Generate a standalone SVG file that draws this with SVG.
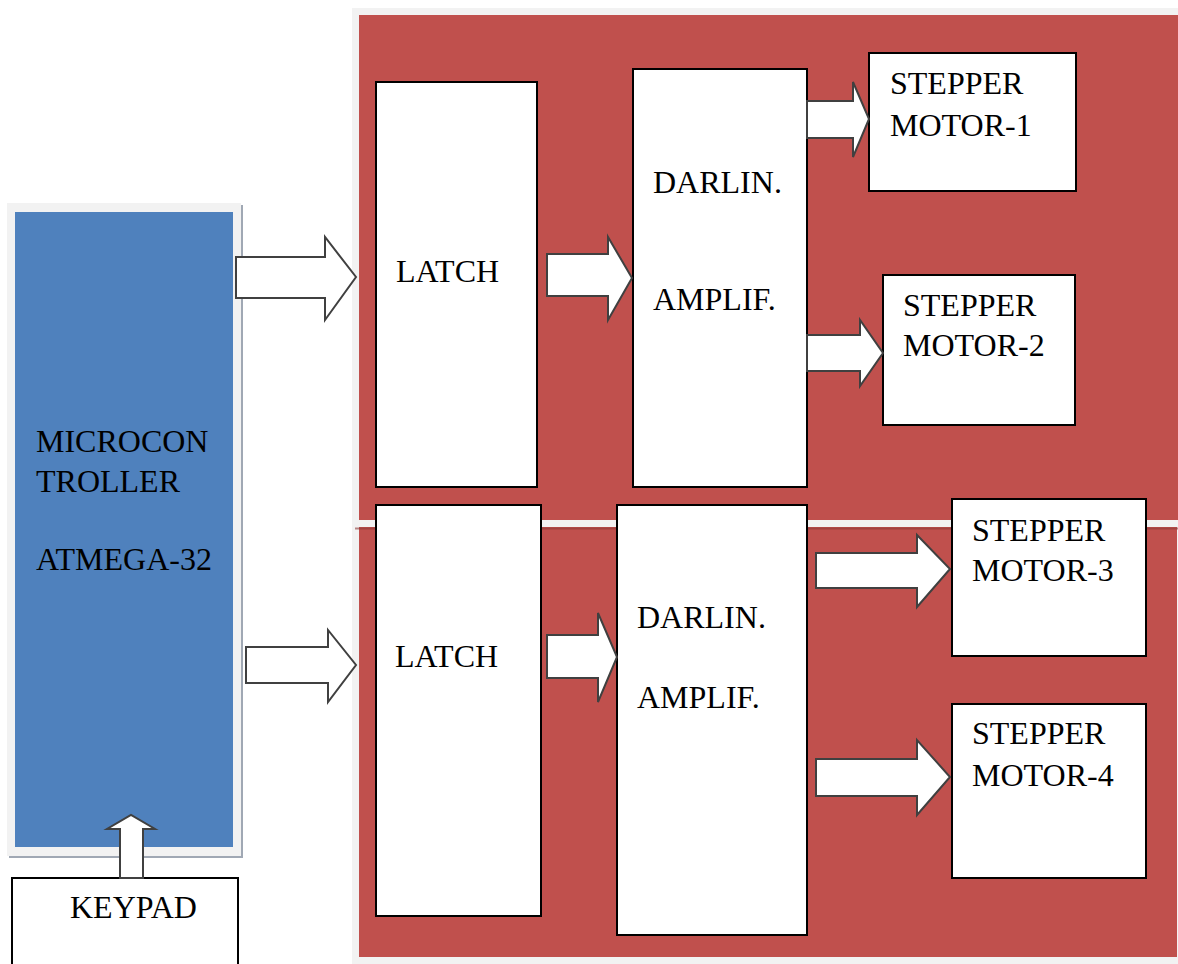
<svg xmlns="http://www.w3.org/2000/svg" width="1178" height="964" viewBox="0 0 1178 964">
<style>
.box{fill:#ffffff;stroke:#000000;stroke-width:2}
.arr{fill:#ffffff;stroke:#404040;stroke-width:2;stroke-linejoin:miter}
text{font-family:'Liberation Serif','DejaVu Serif',serif;font-size:32px;fill:#000000}
</style>
<rect width="1178" height="964" fill="#ffffff"/>
<g id="panels">
<rect x="352" y="8" width="826" height="956" fill="#f2f2f2"/>
<rect x="359" y="15" width="819" height="505" fill="#c0504d"/>
<rect x="359" y="527" width="818" height="430" fill="#c0504d"/>
<line x1="355" y1="528.5" x2="1178" y2="528.5" stroke="#8c3a38" stroke-width="2" opacity="0.6"/>
</g>
<g id="microcontroller">
<rect x="9" y="205" width="234" height="653" fill="#a0a8b4"/>
<rect x="7" y="203" width="234" height="653" fill="#f2f2f2"/>
<rect x="15" y="212" width="218" height="635" fill="#4f81bd"/>
<text x="36" y="452" font-family="Liberation Serif, DejaVu Serif, serif">MICROCON</text>
<text x="36" y="492" font-family="Liberation Serif, DejaVu Serif, serif">TROLLER</text>
<text x="36" y="570" font-family="Liberation Serif, DejaVu Serif, serif">ATMEGA-32</text>
</g>
<g id="keypad">
<rect class="box" x="12" y="878" width="226" height="100"/>
<text x="70" y="918" font-family="Liberation Serif, DejaVu Serif, serif">KEYPAD</text>
</g>
<g id="latch1">
<rect class="box" x="376" y="82" width="161" height="405"/>
<text x="396" y="282" font-family="Liberation Serif, DejaVu Serif, serif">LATCH</text>
</g>
<g id="darlin1">
<rect class="box" x="633" y="69" width="174" height="418"/>
<text x="653" y="193" font-family="Liberation Serif, DejaVu Serif, serif">DARLIN.</text>
<text x="653" y="310" font-family="Liberation Serif, DejaVu Serif, serif">AMPLIF.</text>
</g>
<g id="stepper1">
<rect class="box" x="869" y="53" width="207" height="138"/>
<text x="890" y="94" font-family="Liberation Serif, DejaVu Serif, serif">STEPPER</text>
<text x="890" y="136" font-family="Liberation Serif, DejaVu Serif, serif">MOTOR-1</text>
</g>
<g id="stepper2">
<rect class="box" x="883" y="275" width="192" height="150"/>
<text x="903" y="316" font-family="Liberation Serif, DejaVu Serif, serif">STEPPER</text>
<text x="903" y="356" font-family="Liberation Serif, DejaVu Serif, serif">MOTOR-2</text>
</g>
<g id="latch2">
<rect class="box" x="376" y="505" width="165" height="411"/>
<text x="395" y="667" font-family="Liberation Serif, DejaVu Serif, serif">LATCH</text>
</g>
<g id="darlin2">
<rect class="box" x="617" y="505" width="190" height="430"/>
<text x="637" y="628" font-family="Liberation Serif, DejaVu Serif, serif">DARLIN.</text>
<text x="637" y="708" font-family="Liberation Serif, DejaVu Serif, serif">AMPLIF.</text>
</g>
<g id="stepper3">
<rect class="box" x="952" y="499" width="194" height="157"/>
<text x="972" y="541" font-family="Liberation Serif, DejaVu Serif, serif">STEPPER</text>
<text x="972" y="581" font-family="Liberation Serif, DejaVu Serif, serif">MOTOR-3</text>
</g>
<g id="stepper4">
<rect class="box" x="952" y="704" width="194" height="174"/>
<text x="972" y="744" font-family="Liberation Serif, DejaVu Serif, serif">STEPPER</text>
<text x="972" y="786" font-family="Liberation Serif, DejaVu Serif, serif">MOTOR-4</text>
</g>
<g id="connectors">
<polygon class="arr" points="236,257 325,257 325,237 356,277 325,320 325,298 236,298"/>
<polygon class="arr" points="246,647 328,647 328,630 356,665 328,702 328,683 246,683"/>
<polygon class="arr" points="547,254 608,254 608,237 632,278 608,320 608,296 547,296"/>
<polygon class="arr" points="547,635 598,635 598,613 617,657 598,702 598,678 547,678"/>
<polygon class="arr" points="807,101 853,101 853,82 869,119 853,157 853,138 807,138"/>
<polygon class="arr" points="807,335 860,335 860,320 883,353 860,386 860,371 807,371"/>
<polygon class="arr" points="816,553 917,553 917,535 950,569 917,607 917,588 816,588"/>
<polygon class="arr" points="816,759 917,759 917,740 950,777 917,815 917,796 816,796"/>
<polygon class="arr" points="120,878 120,829 107,829 131,815 155,829 143,829 143,878"/>
</g>
</svg>
